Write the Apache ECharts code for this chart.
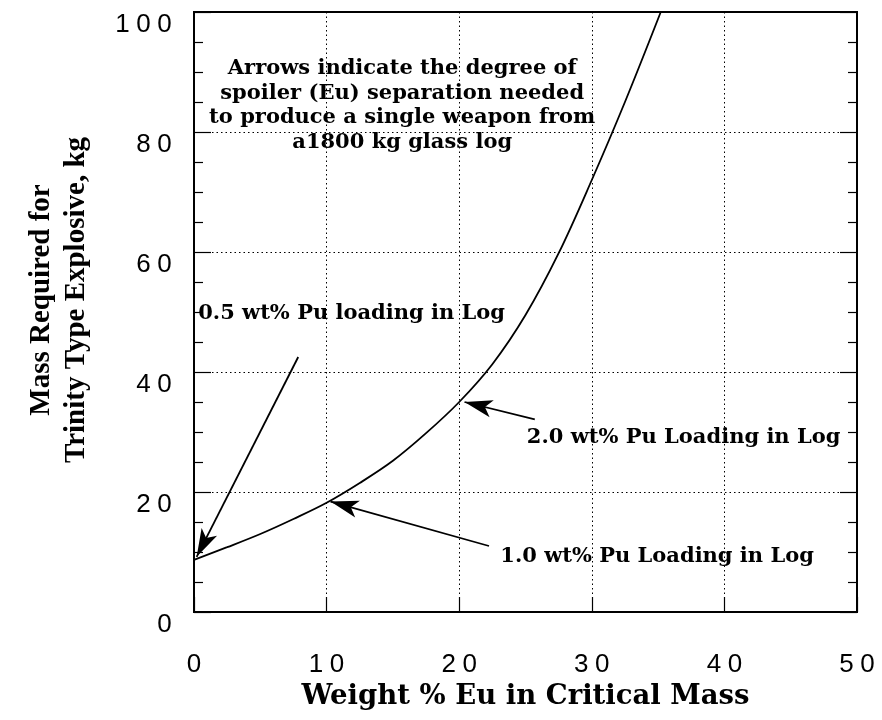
<!DOCTYPE html>
<html>
<head>
<meta charset="utf-8">
<style>
  html, body { margin: 0; padding: 0; background: #fff; }
  #chart { width: 882px; height: 720px; }
</style>
<script src="https://cdn.jsdelivr.net/npm/echarts@6/dist/echarts.min.js"></script>
</head>
<body>
<div id="chart"></div>
<script>
// Critical mass curve: weight % Eu vs. mass of explosive needed (kg)
const euPercent = [0, 2.5, 5, 7.5, 10, 12.5, 15, 17.5, 20, 22.5, 25, 27.5, 30, 32.5, 35.2];
const massKg = [8.7, 10.8, 13.0, 15.5, 18.2, 21.5, 25.2, 29.8, 35.0, 41.3, 49.5, 59.8, 72.0, 85.0, 100];

// Annotation arrows: tail point and tip point (data units)
const arrowTails = [[7.86, 42.5], [22.25, 11.0], [25.7, 32.1]];
const arrowTips = [[0.2, 9.2], [10.3, 18.4], [20.4, 35.0]];

// Annotation texts and their anchor points (data units)
const noteText = 'Arrows indicate the degree of\nspoiler (Eu) separation needed\nto produce a single weapon from\na1800 kg glass log';
const noteAt = [15.7, 84.4];
const loadingLabels = ['0.5 wt% Pu loading in Log', '2.0 wt% Pu Loading in Log', '1.0 wt% Pu Loading in Log'];
const loadingAt = [[0.32, 49.8], [25.1, 29.0], [23.1, 9.3]];

const xTicks = { min: 0, max: 50, interval: 10 };
const yTicks = { min: 0, max: 100, interval: 20 };

const serif = 'DejaVu Serif';
const sans = 'Liberation Sans';

// spread the digits of tick labels apart
function spaced(v) {
  return String(v).split('').map(c => '{d|' + c + '}').join('');
}
const digitRich = { d: { width: 21, align: 'center', fontSize: 26, fontFamily: sans, color: '#000' } };

const chart = echarts.init(document.getElementById('chart'), null, { renderer: 'canvas' });

const curve = euPercent.map((x, i) => [x, massKg[i]]);

const arrows = arrowTails.map((t, i) => [
  { coord: t, symbol: 'none' },
  { coord: arrowTips[i], symbol: 'arrow' }
]);

const notes = [
  {
    coord: noteAt,
    label: { formatter: noteText, align: 'center', verticalAlign: 'middle', lineHeight: 24.5 }
  }
].concat(loadingLabels.map((t, i) => ({
  coord: loadingAt[i],
  label: { formatter: t, align: 'left', verticalAlign: 'middle' }
})));

const option = {
  animation: false,
  backgroundColor: '#fff',
  grid: {
    left: 194, right: 25, top: 12, bottom: 108,
    show: true, borderColor: '#000', borderWidth: 2, backgroundColor: 'transparent'
  },
  xAxis: {
    type: 'value',
    min: xTicks.min, max: xTicks.max, interval: xTicks.interval,
    name: 'Weight % Eu in Critical Mass',
    nameLocation: 'middle',
    nameGap: 67,
    nameTextStyle: { fontFamily: serif, fontWeight: 'bold', fontSize: 27.5, color: '#000', verticalAlign: 'top' },
    axisLine: { show: true, lineStyle: { color: '#000', width: 2 } },
    axisTick: { show: true, inside: true, length: 15, lineStyle: { color: '#000', width: 1.2 } },
    axisLabel: { margin: 40, formatter: spaced, rich: digitRich },
    splitLine: { show: true, lineStyle: { color: '#000', width: 1, type: [1.5, 3] } }
  },
  yAxis: [
    {
      type: 'value',
      position: 'left',
      min: yTicks.min, max: yTicks.max, interval: yTicks.interval,
      name: 'Mass Required for\nTrinity Type Explosive, kg',
      nameLocation: 'middle',
      nameGap: 100,
      nameTextStyle: {
        fontFamily: 'Liberation Serif', fontWeight: 'bold', fontSize: 29, lineHeight: 35,
        color: '#000', align: 'center', padding: [0, 0, 0, 24]
      },
      axisLine: { show: true, lineStyle: { color: '#000', width: 2 } },
      axisTick: { show: true, inside: true, length: 17, lineStyle: { color: '#000', width: 1.2 } },
      minorTick: { show: true, splitNumber: 4, length: 9, lineStyle: { color: '#000', width: 1.2 } },
      axisLabel: { margin: 19, verticalAlign: 'top', formatter: spaced, rich: digitRich },
      splitLine: { show: true, lineStyle: { color: '#000', width: 1, type: [1.5, 3] } }
    },
    {
      type: 'value',
      position: 'right',
      min: yTicks.min, max: yTicks.max, interval: yTicks.interval,
      axisLine: { show: true, lineStyle: { color: '#000', width: 2 } },
      axisTick: { show: true, inside: true, length: 17, lineStyle: { color: '#000', width: 1.2 } },
      minorTick: { show: true, splitNumber: 4, length: 9, lineStyle: { color: '#000', width: 1.2 } },
      axisLabel: { show: false },
      splitLine: { show: false }
    }
  ],
  series: [
    {
      name: 'Critical mass',
      type: 'line',
      data: curve,
      smooth: 0.35,
      showSymbol: false,
      clip: true,
      lineStyle: { color: '#000', width: 1.8 },
      markLine: {
        silent: true,
        symbol: ['none', 'arrow'],
        symbolSize: [13, 28],
        label: { show: false },
        lineStyle: { color: '#000', width: 1.8, type: 'solid' },
        emphasis: { disabled: true },
        data: arrows
      },
      markPoint: {
        silent: true,
        symbol: 'circle',
        symbolSize: 0,
        label: {
          show: true,
          position: [0, 0],
          fontFamily: serif,
          fontWeight: 'bold',
          fontSize: 21,
          color: '#000'
        },
        data: notes
      }
    }
  ]
};

chart.setOption(option);
</script>
</body>
</html>
